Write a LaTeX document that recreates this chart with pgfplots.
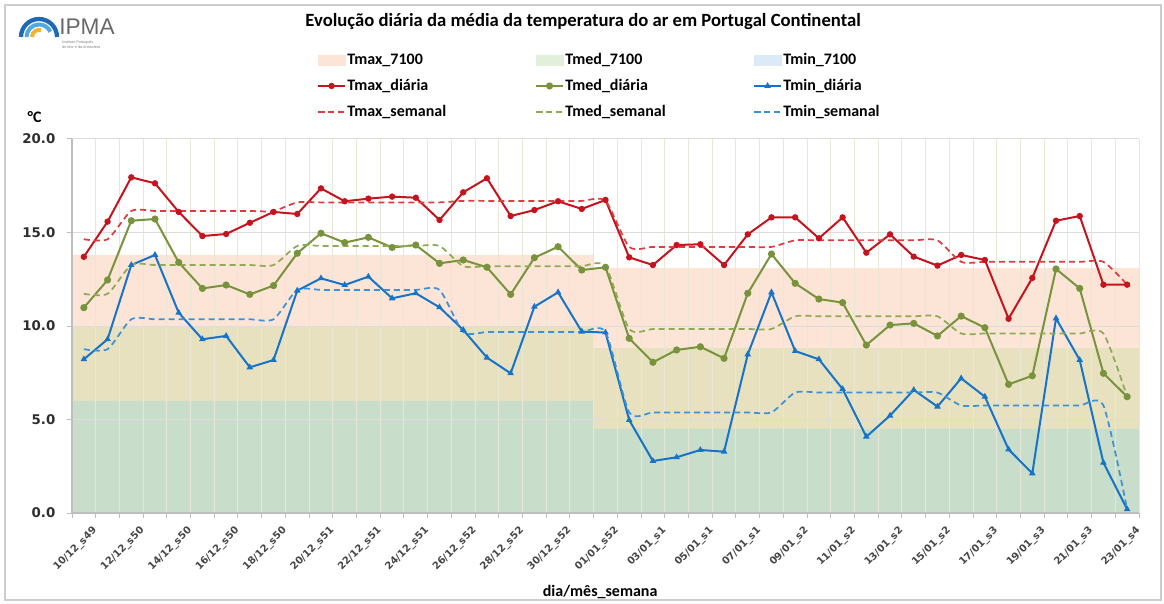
\documentclass[border=0pt]{standalone}
\usepackage{pgfplots}
\pgfplotsset{compat=1.18}
\usepackage{pgfplotstable}
\usepackage{fontspec}
\setmainfont{Carlito}
\newfontfamily\dejavu{DejaVu Sans}
\newfontfamily\libsans{Liberation Sans}

\definecolor{maxc}{RGB}{198,20,30}
\definecolor{medc}{RGB}{119,147,60}
\definecolor{minc}{RGB}{22,115,200}
\definecolor{wmaxc}{RGB}{222,60,62}
\definecolor{wmedc}{RGB}{142,170,84}
\definecolor{wminc}{RGB}{60,145,215}
\definecolor{peach}{RGB}{252,229,214}
\definecolor{tan}{RGB}{231,225,192}
\definecolor{ggreen}{RGB}{200,221,202}
\definecolor{peachleg}{RGB}{252,228,214}
\definecolor{greenleg}{RGB}{226,239,218}
\definecolor{blueleg}{RGB}{218,234,246}
\definecolor{axisc}{RGB}{190,190,190}
\definecolor{hgridc}{RGB}{220,220,220}
\definecolor{vgridc}{RGB}{232,230,212}
\definecolor{framec}{RGB}{205,205,205}
\definecolor{labc}{RGB}{45,45,45}
\definecolor{xlabc}{RGB}{70,70,70}
\definecolor{logoblue}{RGB}{30,105,185}
\definecolor{logocyan}{RGB}{80,170,225}
\definecolor{logoyellow}{RGB}{245,180,40}
\definecolor{logogrey}{RGB}{105,105,105}

\newcommand{\PX}[2]{({(#1)*0.75pt},{(603-(#2))*0.75pt})}

\pgfplotstableread{
x  tmax  tmed  tmin  wmax  wmed  wmin  nmax nmed nmin
0  13.70 10.98 8.22  14.64 11.72 8.76  13.8 10.0 6.0
1  15.58 12.46 9.29  14.64 11.72 8.76  13.8 10.0 6.0
2  17.95 15.63 13.26 16.15 13.26 10.36 13.8 10.0 6.0
3  17.63 15.72 13.80 16.15 13.26 10.36 13.8 10.0 6.0
4  16.10 13.40 10.71 16.15 13.26 10.36 13.8 10.0 6.0
5  14.81 12.01 9.29  16.15 13.26 10.36 13.8 10.0 6.0
6  14.92 12.19 9.47  16.15 13.26 10.36 13.8 10.0 6.0
7  15.52 11.69 7.79  16.15 13.26 10.36 13.8 10.0 6.0
8  16.10 12.16 8.18  16.15 13.26 10.36 13.8 10.0 6.0
9  15.99 13.89 11.89 16.61 14.28 11.93 13.8 10.0 6.0
10 17.36 14.96 12.55 16.61 14.28 11.93 13.8 10.0 6.0
11 16.67 14.46 12.19 16.61 14.28 11.93 13.8 10.0 6.0
12 16.81 14.74 12.64 16.61 14.28 11.93 13.8 10.0 6.0
13 16.92 14.20 11.48 16.61 14.28 11.93 13.8 10.0 6.0
14 16.86 14.33 11.75 16.61 14.28 11.93 13.8 10.0 6.0
15 15.67 13.35 11.00 16.61 14.28 11.93 13.8 10.0 6.0
16 17.15 13.53 9.79  16.69 13.20 9.68  13.8 10.0 6.0
17 17.90 13.14 8.31  16.69 13.20 9.68  13.8 10.0 6.0
18 15.88 11.69 7.47  16.69 13.20 9.68  13.8 10.0 6.0
19 16.20 13.65 11.03 16.69 13.20 9.68  13.8 10.0 6.0
20 16.67 14.24 11.80 16.69 13.20 9.68  13.8 10.0 6.0
21 16.26 12.99 9.70  16.69 13.20 9.68  13.8 10.0 6.0
22 16.74 13.14 9.65  16.69 13.20 9.68  13.1 8.8  4.5
23 13.67 9.34  4.97  14.23 9.84  5.38  13.1 8.8  4.5
24 13.26 8.06  2.78  14.23 9.84  5.38  13.1 8.8  4.5
25 14.33 8.72  2.98  14.23 9.84  5.38  13.1 8.8  4.5
26 14.37 8.89  3.37  14.23 9.84  5.38  13.1 8.8  4.5
27 13.26 8.27  3.28  14.23 9.84  5.38  13.1 8.8  4.5
28 14.90 11.75 8.48  14.23 9.84  5.38  13.1 8.8  4.5
29 15.81 13.85 11.80 14.23 9.84  5.38  13.1 8.8  4.5
30 15.81 12.28 8.66  14.58 10.52 6.44  13.1 8.8  4.5
31 14.69 11.44 8.22  14.58 10.52 6.44  13.1 8.8  4.5
32 15.81 11.25 6.63  14.58 10.52 6.44  13.1 8.8  4.5
33 13.92 8.98  4.08  14.58 10.52 6.44  13.1 8.8  4.5
34 14.90 10.05 5.21  14.58 10.52 6.44  13.1 8.8  4.5
35 13.71 10.14 6.58  14.58 10.52 6.44  13.1 8.8  4.5
36 13.23 9.47  5.69  14.58 10.52 6.44  13.1 8.8  4.5
37 13.80 10.53 7.20  13.43 9.60  5.75  13.1 8.8  4.5
38 13.53 9.91  6.22  13.43 9.60  5.75  13.1 8.8  4.5
39 10.39 6.88  3.40  13.43 9.60  5.75  13.1 8.8  4.5
40 12.57 7.34  2.12  13.43 9.60  5.75  13.1 8.8  4.5
41 15.63 13.05 10.41 13.43 9.60  5.75  13.1 8.8  4.5
42 15.88 12.01 8.18  13.43 9.60  5.75  13.1 8.8  4.5
43 12.21 7.47  2.69  13.43 9.60  5.75  13.1 8.8  4.5
44 12.21 6.22  0.20  12.21 6.22  0.20  13.1 8.8  4.5
}\data

\begin{document}
\begin{tikzpicture}
\path \PX{0}{0} rectangle \PX{1164}{603};
\draw[framec, line width=1pt] \PX{5}{5} rectangle \PX{1161}{600};
% logo
\draw[logoblue, line width=3.2pt] \PX{21}{37} arc[start angle=180, end angle=0, radius=13.5pt];
\draw[logocyan, line width=3pt] \PX{26.5}{37} arc[start angle=180, end angle=25, radius=9.4pt];
\draw[logoyellow, line width=3pt] \PX{32}{37} arc[start angle=180, end angle=75, radius=5.3pt];
\node[anchor=west, inner sep=0pt, text=logogrey, font=\libsans\fontsize{17}{17}\selectfont] at \PX{59}{27} {IPMA};
\node[anchor=north west, inner sep=0pt, text=gray, align=left, font=\libsans\fontsize{2.8}{3.3}\selectfont] at \PX{62}{41} {Instituto Português\\do Mar e da Atmosfera};

\begin{axis}[
  at={(54pt,67.5pt)}, anchor=south west,
  width=800.25pt, height=280.5pt, scale only axis,
  xmin=-0.5, xmax=44.5, ymin=0, ymax=20,
  set layers,
  axis x line*=bottom, axis y line*=left,
  axis line style={draw=axisc, line width=0.8pt, -},
  ytick={0,5,10,15,20},
  xtick={0,2,...,44},
  xticklabels={10/12\_s49,12/12\_s50,14/12\_s50,16/12\_s50,18/12\_s50,20/12\_s51,22/12\_s51,24/12\_s51,26/12\_s52,28/12\_s52,30/12\_s52,01/01\_s52,03/01\_s1,05/01\_s1,07/01\_s1,09/01\_s2,11/01\_s2,13/01\_s2,15/01\_s2,17/01\_s3,19/01\_s3,21/01\_s3,23/01\_s4},
  minor xtick={-0.5,0.5,1.5,2.5,3.5,4.5,5.5,6.5,7.5,8.5,9.5,10.5,11.5,12.5,13.5,14.5,15.5,16.5,17.5,18.5,19.5,20.5,21.5,22.5,23.5,24.5,25.5,26.5,27.5,28.5,29.5,30.5,31.5,32.5,33.5,34.5,35.5,36.5,37.5,38.5,39.5,40.5,41.5,42.5,43.5,44.5},
  ymajorgrids, xminorgrids,
  major grid style={draw=hgridc, line width=0.75pt},
  minor grid style={draw=vgridc, line width=0.75pt},
  tick align=outside,
  major tick length=4pt, minor tick length=4pt,
  major x tick style={draw=none},
  minor x tick style={draw=axisc, line width=0.75pt},
  y tick style={draw=axisc, line width=0.75pt},
  /pgf/number format/assume math mode=true,
  yticklabel style={font=\dejavu\bfseries\fontsize{10}{12}\selectfont, text=labc, xshift=-5pt, /pgf/number format/fixed, /pgf/number format/fixed zerofill, /pgf/number format/precision=1},
  xticklabel style={font=\dejavu\bfseries\fontsize{7.5}{9}\selectfont, text=xlabc, rotate=45, anchor=north east, inner sep=1pt, yshift=-7pt, xshift=1.5pt},
  every axis title shift=0pt,
  title={Evolução diária da média da temperatura do ar em Portugal Continental},
  title style={at={(axis description cs:0.479,1.313)}, anchor=center, font=\bfseries\fontsize{14}{16}\selectfont},
  xlabel={dia/mês\_semana},
  xlabel style={at={(axis description cs:0.495,-0.211)}, anchor=center, font=\bfseries\fontsize{12}{14}\selectfont},
  ylabel={°C},
  ylabel style={at={(axis description cs:-0.035,1.059)}, anchor=center, rotate=-90, font=\bfseries\fontsize{12}{14}\selectfont},
  legend columns=3,
  legend cell align=left,
  legend style={at={(axis description cs:0.2296,1.2326)}, anchor=north west, draw=none, fill=none, inner sep=0pt, row sep=7.4pt, font=\bfseries\fontsize{12}{14}\selectfont, nodes={inner sep=1pt}, /tikz/every odd column/.append style={column sep=0pt}},
  legend image code/.code={\draw[mark repeat=2,mark phase=2,#1] plot coordinates {(0pt,0pt) (10pt,0pt) (20pt,0pt)};},
]
\addplot[ybar, bar width=1, bar shift=0pt, fill=peach, draw=peach, line width=0.3pt, on layer=axis background,
  legend image code/.code={\fill[peachleg] (0pt,-3.75pt) rectangle (20pt,3.75pt);}] table[x=x,y=nmax]{\data};
\addlegendentry{\makebox[140pt][l]{\rule[-2pt]{0pt}{10pt}Tmax\_7100}}
\addplot[ybar, bar width=1, bar shift=0pt, fill=tan, draw=tan, line width=0.3pt, on layer=axis background,
  legend image code/.code={\fill[greenleg] (0pt,-3.75pt) rectangle (20pt,3.75pt);}] table[x=x,y=nmed]{\data};
\addlegendentry{\makebox[140pt][l]{\rule[-2pt]{0pt}{10pt}Tmed\_7100}}
\addplot[ybar, bar width=1, bar shift=0pt, fill=ggreen, draw=ggreen, line width=0.3pt, on layer=axis background,
  legend image code/.code={\fill[blueleg] (0pt,-3.75pt) rectangle (20pt,3.75pt);}] table[x=x,y=nmin]{\data};
\addlegendentry{\makebox[140pt][l]{\rule[-2pt]{0pt}{10pt}Tmin\_7100}}

\addplot[maxc, line width=1.5pt, mark=*, mark size=1.6pt] table[x=x,y=tmax]{\data};
\addlegendentry{\makebox[140pt][l]{\rule[-2pt]{0pt}{10pt}Tmax\_diária}}
\addplot[medc, line width=1.5pt, mark=*, mark size=1.9pt] table[x=x,y=tmed]{\data};
\addlegendentry{\makebox[140pt][l]{\rule[-2pt]{0pt}{10pt}Tmed\_diária}}
\addplot[minc, line width=1.5pt, mark=triangle*, mark size=1.4pt] table[x=x,y=tmin]{\data};
\addlegendentry{\makebox[140pt][l]{\rule[-2pt]{0pt}{10pt}Tmin\_diária}}

\addplot[wmaxc, line width=1.3pt, dash pattern=on 4.5pt off 3pt, smooth, tension=0.4] table[x=x,y=wmax]{\data};
\addlegendentry{\makebox[140pt][l]{\rule[-2pt]{0pt}{10pt}Tmax\_semanal}}
\addplot[wmedc, line width=1.3pt, dash pattern=on 4.5pt off 3pt, smooth, tension=0.4] table[x=x,y=wmed]{\data};
\addlegendentry{\makebox[140pt][l]{\rule[-2pt]{0pt}{10pt}Tmed\_semanal}}
\addplot[wminc, line width=1.3pt, dash pattern=on 4.5pt off 3pt, smooth, tension=0.4] table[x=x,y=wmin]{\data};
\addlegendentry{\makebox[140pt][l]{\rule[-2pt]{0pt}{10pt}Tmin\_semanal}}
\end{axis}
\end{tikzpicture}
\end{document}
